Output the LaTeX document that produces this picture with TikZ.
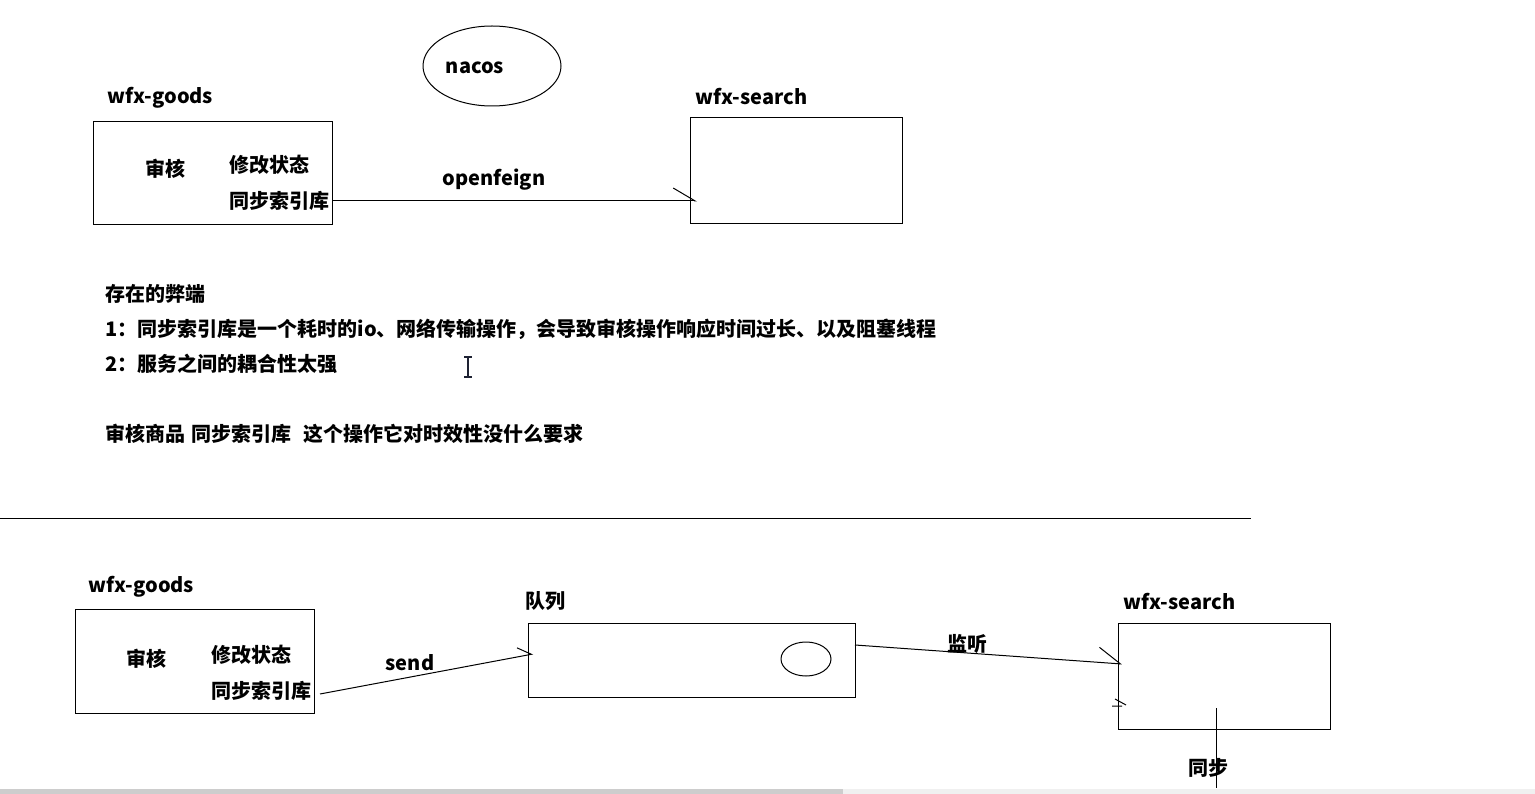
\documentclass[tikz,border=0pt]{standalone}
\usepackage{fontspec}
\setmainfont{Noto Sans CJK SC}
\usetikzlibrary{arrows.meta,shapes.geometric}
\definecolor{barDark}{HTML}{CDCDCD}
\definecolor{barLight}{HTML}{F0F0F0}
\definecolor{cursorInk}{HTML}{1E2233}
\begin{document}
\begin{tikzpicture}[x=1pt, y=-1pt, line width=1pt,
  lbl/.style={inner sep=0pt, anchor=west, yshift=-2pt, font=\fontsize{20}{24}\selectfont\bfseries},
  box/.style={draw, inner sep=0pt, anchor=north west},
  barb/.style 2 args={-{Straight Barb[harpoon, length=#1, width=#2]}}]

\fill[white] (0,0) rectangle (1535,794);
\useasboundingbox (0,0) rectangle (1535,794);

% before
\node[draw, ellipse, minimum width=138pt, minimum height=80pt] (nacos) at (492,66) {};
\node[lbl, anchor=center] (nacosLbl) at (475,66) {nacos};

\node[lbl] (goodsLblA) at (107,96) {wfx-goods};
\node[box, minimum width=239pt, minimum height=103pt] (goodsA) at (93,121) {};
\node[lbl] (auditA) at (145,167) {审核};
\node[lbl] (stateA) at (229,163) {修改状态};
\node[lbl] (syncA) at (229,199) {同步索引库};

\node[lbl] (searchLblA) at (695,95) {wfx-search};
\node[box, minimum width=212pt, minimum height=106pt] (searchA) at (690,117) {};

\draw[barb={22pt}{26pt}] (goodsA.east |- syncA) -- ([xshift=7pt]searchA.west |- syncA);
\node[lbl, anchor=center] (feignLbl) at (494,178) {openfeign};

\node[lbl] (cons) at (105,292) {存在的弊端};
\node[lbl] (consA) at (105,327) {1：同步索引库是一个耗时的io、网络传输操作，会导致审核操作响应时间过长、以及阻塞线程};
\node[lbl] (consB) at (105,362) {2：服务之间的耦合性太强};
\node[lbl] (note) at (105,432) {审核商品\hspace{6pt}同步索引库\hspace{12pt}这个操作它对时效性没什么要求};

\draw[color=cursorInk, line width=1.5pt] (468,357) -- (468,377)
  (464,357) -- (472,357) (464,377) -- (472,377);

\draw (0,518) -- (1251,518);

% after
\node[lbl] (goodsLblB) at (88,585) {wfx-goods};
\node[box, minimum width=239pt, minimum height=104pt] (goodsB) at (75,609) {};
\node[lbl] (auditB) at (126,657) {审核};
\node[lbl] (stateB) at (211,653) {修改状态};
\node[lbl] (syncB) at (211,689) {同步索引库};

\node[lbl] (queueLbl) at (525,599) {队列};
\node[box, minimum width=327pt, minimum height=74pt] (queue) at (528,623) {};
\node[draw, ellipse, minimum width=50pt, minimum height=34pt] (msg) at (806,659) {};

\node[lbl] (searchLblB) at (1123,600) {wfx-search};
\node[box, minimum width=212pt, minimum height=106pt] (searchB) at (1118,623) {};

\coordinate (sendFrom) at (320,694);
\coordinate (sendTo) at (533,654);
\draw[barb={13pt}{18pt}] (sendFrom) -- (sendTo);
\node[lbl, anchor=center] (sendLbl) at (410,661) {send};

\coordinate (listenFrom) at (855,645);
\coordinate (listenTo) at (1122,664);
\draw[barb={22pt}{30pt}] (listenFrom) -- (listenTo);
\node[lbl, anchor=center] (listenLbl) at (967,642) {监听};

\draw (1115,699) -- (1126,705) (1112,706) -- (1122,706);

\coordinate (syncTop) at (1216,708);
\coordinate (syncEnd) at (1216,788);
\node[lbl, anchor=center] (syncLbl) at (1208,766) {同步};
\draw (syncTop) -- (syncEnd);

% scroll bar
\fill[barLight] (0,789) rectangle (1535,794);
\fill[barDark] (0,789) rectangle (843,794);

\end{tikzpicture}
\end{document}
